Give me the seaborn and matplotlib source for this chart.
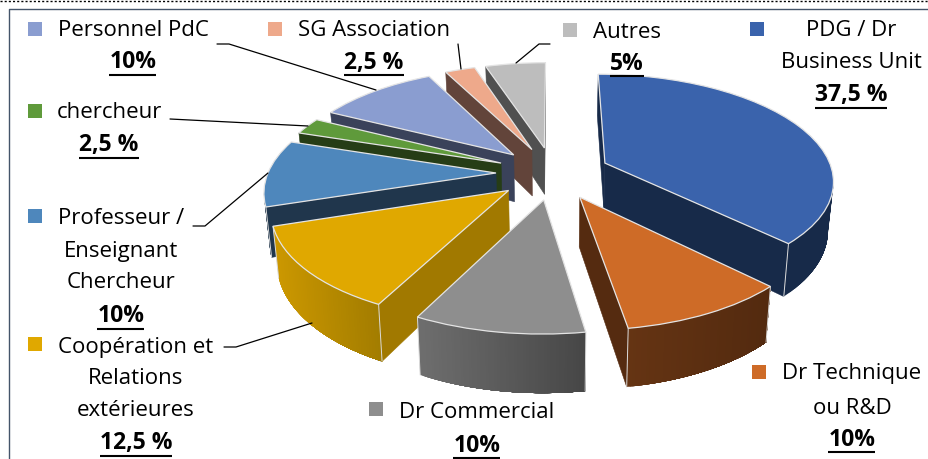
import matplotlib
matplotlib.use("Agg")
import numpy as np
import matplotlib.pyplot as plt
from matplotlib.transforms import Transform
from matplotlib.colors import to_rgb
import seaborn as sns

# ---- data (clockwise from 12 o'clock) ----
categories = ["PDG / Dr Business Unit", "Dr Technique ou R&D", "Dr Commercial",
              "Coopération et Relations extérieures", "Professeur / Enseignant Chercheur",
              "chercheur", "Personnel PdC", "SG Association", "Autres"]
values = [37.5, 10, 10, 12.5, 10, 2.5, 10, 2.5, 5]
percent_labels = ["37,5 %", "10%", "10%", "12,5 %", "10%", "2,5 %", "10%", "2,5 %", "5%"]

# ---- style ----
top_colors = ["#3A63AC", "#CE6B27", "#8E8E8E", "#E0A800", "#4E87BC",
              "#5F9A3B", "#8A9DD0", "#EEA98B", "#BDBDBD"]
wall_left = ["#172A49", "#653413", "#6E6E6E", "#CC9800", "#20364C",
             "#263D16", "#3A425A", "#62443A", "#505050"]
wall_right = ["#172A49", "#532A0F", "#464646", "#A27C00", "#20364C",
              "#263D16", "#3A425A", "#62443A", "#505050"]
radial_colors = ["#172A49", "#552B10", "#6A6A6A", "#A17900", "#20364C",
                 "#263D16", "#3A425A", "#62443A", "#505050"]
paint_order = [8, 7, 6, 5, 4, 0, 3, 1, 2]  # back to front
explode_frac = 0.25
CX, CY, RX, RY, K, DEPTH, CONVERGE = 553, 173, 228, 105, 0.15, 48, 0.02

sns.set_theme(style="white")
plt.rcParams["font.family"] = ["Open Sans", "DejaVu Sans"]
TEXT_SIZE = 16.0
BOLD_SIZE = 16.5


class Perspective(Transform):
    """Maps pie coordinates (radius 1) to picture pixels, tilted away from the viewer."""
    input_dims = 2
    output_dims = 2
    has_inverse = False
    is_separable = False

    def transform_non_affine(self, values):
        v = np.asarray(values, dtype=float)
        s = 1.0 / (1.0 + K * v[:, 1])
        return np.column_stack([CX + RX * v[:, 0] * s, CY - RY * v[:, 1] * s])


persp = Perspective()


def project(x, y, z=0.0):
    p = persp.transform_non_affine(np.column_stack([x, y]))
    s = 1.0 / (1.0 + K * np.asarray(y, dtype=float))
    p[:, 0] = CX + (p[:, 0] - CX) * (1.0 - CONVERGE * z)
    p[:, 1] = p[:, 1] + DEPTH * z * s
    return p


fig = plt.figure(figsize=(9.29, 4.59), dpi=100, facecolor="white")
ax = fig.add_axes([0, 0, 1, 1])
wedges, _ = ax.pie(values, explode=[explode_frac] * len(values), startangle=90,
                   counterclock=False, colors=top_colors, radius=1.0,
                   wedgeprops=dict(edgecolor="#E4E4E4", linewidth=0.9))
ax.set_aspect("auto")
ax.set_xlim(0, 929)
ax.set_ylim(459, 0)
ax.axis("off")

tr = persp + ax.transData
LIGHT = "#DADADA"

for rank, i in enumerate(paint_order):
    w = wedges[i]
    base = 10 + rank * 10
    cx0, cy0 = w.center
    t = np.radians(np.linspace(w.theta1, w.theta2, 60))
    ax_x = cx0 + w.r * np.cos(t)
    ax_y = cy0 + w.r * np.sin(t)
    apex = np.array([[cx0, cy0]])
    first = np.array([[ax_x[0], ax_y[0]]])
    last = np.array([[ax_x[-1], ax_y[-1]]])
    # radial walls, kept only when they face the viewer
    for a, b in ((apex, first), (last, apex)):
        seg = np.vstack([a, b])
        sx = project(*seg.T)[:, 0]
        if sx[1] > sx[0]:
            q = np.vstack([project(*seg.T), project(*seg.T, 1.0)[::-1]])
            ax.fill(q[:, 0], q[:, 1], facecolor=radial_colors[i],
                    edgecolor=radial_colors[i], linewidth=0.4, zorder=base, clip_on=False)
    # outer wall, shaded from left to right; each step overpaints the rest, so no seams
    top_edge = project(ax_x, ax_y)
    bot_edge = project(ax_x, ax_y, 1.0)
    visible = np.where(np.diff(top_edge[:, 0]) > 0)[0]
    if len(visible):
        xl, xr = top_edge[visible[0], 0], top_edge[visible[-1] + 1, 0]
        cl, cr = np.array(to_rgb(wall_left[i])), np.array(to_rgb(wall_right[i]))
        if top_edge[visible[0], 0] < top_edge[visible[-1] + 1, 0]:
            stop = visible[-1] + 2
            for j in visible:
                f = np.clip((top_edge[j, 0] - xl) / max(xr - xl, 1), 0, 1)
                col = tuple(cl + (cr - cl) * f)
                q = np.vstack([top_edge[j:stop], bot_edge[j:stop][::-1]])
                ax.fill(q[:, 0], q[:, 1], facecolor=col, edgecolor="none", linewidth=0,
                        zorder=base + 1, clip_on=False)
    # light seams on the visible wall corners
    for px, py in ((ax_x[0], ax_y[0]), (ax_x[-1], ax_y[-1])):
        a = project([px], [py])
        b = project([px], [py], 1.0)
        if py < cy0 - 0.3:
            ax.plot([a[0, 0], b[0, 0]], [a[0, 1], b[0, 1]], color=LIGHT, lw=0.7,
                    zorder=base + 2, clip_on=False)
    w.set_transform(tr)
    w.set_clip_on(False)
    w.set_zorder(base + 3)

# ---- legend-style labels ----
label_lines = [
    (851, [("PDG / Dr", 30), ("Business Unit", 62)], 95, 0),
    (852, [("Dr Technique", 373), ("ou R&D", 407)], 439, 1),
    (477, [("Dr Commercial", 411)], 445, 2),
    (136, [("Coopération et", 346), ("Relations", 378), ("extérieures", 410)], 443, 3),
    (121, [("Professeur /", 218), ("Enseignant", 250), ("Chercheur", 282)], 316, 4),
    (109, [("chercheur", 112)], 145, 5),
    (133, [("Personnel PdC", 30)], 62, 6),
    (374, [("SG Association", 30)], 62, 7),
    (627, [("Autres", 31)], 63, 8),
]
fig.canvas.draw()
renderer = fig.canvas.get_renderer()
for x, lines, py, i in label_lines:
    for txt, y in lines:
        ax.text(x, y + 1, txt, ha="center", va="center", fontsize=TEXT_SIZE,
                color="black", zorder=200)
    t = ax.text(x, py + 0.5, percent_labels[i], ha="center", va="center", fontsize=BOLD_SIZE,
                fontweight="bold", color="black", zorder=200)
    bb = t.get_window_extent(renderer)
    ax.plot([x - bb.width / 2, x + bb.width / 2], [py + 13, py + 13], color="black",
            lw=1.5, zorder=200, solid_capstyle="butt")

marker_x = [757, 759, 376, 35, 35, 35, 35, 275, 570]
marker_y = [29, 372, 409, 344, 216, 111, 29, 29, 30]
sns.scatterplot(x=marker_x, y=marker_y, hue=categories, hue_order=categories,
                palette=top_colors, marker="s", s=90, linewidth=0, legend=False,
                ax=ax, zorder=200)

# ---- leader lines ----
leaders = [
    ([217, 229, 376], [44, 44, 90]),
    ([458, 461], [44, 69]),
    ([516, 539, 550], [63, 44, 44]),
    ([170, 308], [119, 126]),
    ([193, 205, 268], [226, 226, 173]),
    ([224, 236, 312], [347, 347, 323]),
]
for lx, ly in leaders:
    ax.plot(lx, ly, color="black", lw=0.9, zorder=150)

# ---- frame ----
ax.plot([9.5, 9.5, 929], [459, 9, 9], color="#44546A", lw=1.0, zorder=5, clip_on=False)
ax.plot([0, 929], [0.7, 0.7], color="black", lw=1.0, ls=(0, (1.5, 1.5)), zorder=5)

ax.set_xlim(0, 929)
ax.set_ylim(459, 0)
fig.savefig("out.png", dpi=100)
